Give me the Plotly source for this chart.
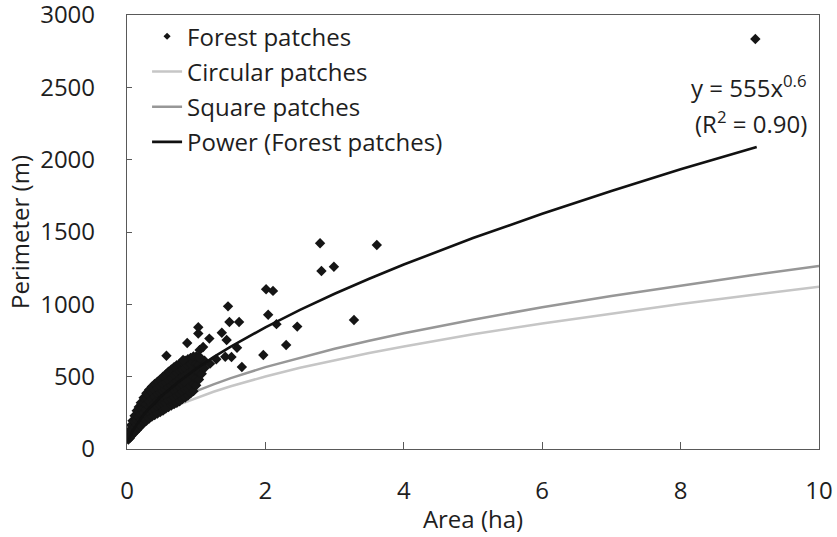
import plotly.graph_objects as go

# ---- Forest patches (area ha, perimeter m) ----
forest_area = [
    0.02, 0.02, 0.02,
    0.04, 0.04, 0.04,
    0.06, 0.06, 0.06, 0.06,
    0.08, 0.08, 0.08, 0.08,
    0.11, 0.11, 0.11, 0.11,
    0.14, 0.14, 0.14, 0.14, 0.14,
    0.17, 0.17, 0.17, 0.17, 0.17,
    0.20, 0.20, 0.20, 0.20, 0.20,
    0.24, 0.24, 0.24, 0.24, 0.24, 0.24,
    0.28, 0.28, 0.28, 0.28, 0.28, 0.28,
    0.32, 0.32, 0.32, 0.32, 0.32, 0.32,
    0.36, 0.36, 0.36, 0.36, 0.36, 0.36,
    0.40, 0.40, 0.40, 0.40, 0.40, 0.40,
    0.44, 0.44, 0.44, 0.44, 0.44, 0.44,
    0.48, 0.48, 0.48, 0.48, 0.48, 0.48,
    0.52, 0.52, 0.52, 0.52, 0.52, 0.52,
    0.56, 0.56, 0.56, 0.56, 0.56, 0.56,
    0.60, 0.60, 0.60, 0.60, 0.60, 0.60,
    0.64, 0.64, 0.64, 0.64, 0.64, 0.64,
    0.68, 0.68, 0.68, 0.68, 0.68, 0.68,
    0.72, 0.72, 0.72, 0.72, 0.72, 0.72,
    0.76, 0.76, 0.76, 0.76, 0.76, 0.76,
    0.80, 0.80, 0.80, 0.80, 0.80, 0.80,
    0.84, 0.84, 0.84, 0.84, 0.84, 0.84,
    0.88, 0.88, 0.88, 0.88, 0.88, 0.88,
    0.92, 0.92, 0.92, 0.92, 0.92, 0.92,
    0.96, 0.96, 0.96, 0.96, 0.96, 0.96,
    1.00, 1.00, 1.00, 1.00, 1.00,
    1.04, 1.04, 1.04, 1.04,
    1.08, 1.08, 1.08,
    1.12, 1.12,
    # scattered larger patches
    9.08, 2.79, 3.61, 2.81, 2.99, 2.01, 2.11, 1.46, 2.04, 1.48,
    1.62, 2.16, 2.46, 3.28, 1.03, 1.03, 0.87, 1.19, 1.37, 1.44,
    1.59, 2.30, 1.42, 1.51, 1.97, 1.66, 0.57, 0.81, 1.05, 1.10,
    1.05, 1.29, 1.20,
]
forest_perimeter = [
    65, 80, 100,
    75, 100, 125,
    90, 115, 140, 165,
    100, 130, 160, 195,
    115, 150, 190, 230,
    130, 165, 200, 235, 265,
    145, 180, 220, 255, 290,
    160, 200, 240, 280, 320,
    180, 215, 250, 285, 320, 355,
    195, 235, 275, 310, 350, 385,
    210, 250, 290, 330, 370, 410,
    225, 265, 305, 345, 390, 430,
    235, 275, 320, 360, 405, 450,
    245, 290, 335, 380, 420, 465,
    255, 300, 345, 390, 435, 480,
    265, 310, 355, 400, 450, 500,
    280, 320, 365, 410, 460, 515,
    290, 335, 380, 425, 475, 535,
    300, 345, 395, 440, 490, 550,
    310, 355, 405, 455, 510, 565,
    320, 370, 420, 470, 525, 580,
    330, 380, 430, 485, 540, 590,
    345, 395, 445, 500, 550, 600,
    355, 410, 460, 510, 560, 610,
    370, 420, 470, 520, 575, 620,
    385, 435, 485, 535, 585, 630,
    400, 450, 500, 550, 600, 640,
    440, 490, 540, 590, 640,
    480, 530, 580, 640,
    520, 570, 620,
    560, 610,
    2834, 1422, 1410, 1230, 1260, 1104, 1093, 986, 928, 878,
    878, 863, 846, 892, 842, 798, 733, 763, 804, 753,
    700, 719, 638, 636, 650, 567, 645, 615, 684, 705,
    627, 620, 590,
]

# ---- Reference shapes and power fit ----
curve_area = [0.02, 0.05, 0.1, 0.15, 0.2, 0.3, 0.4, 0.5, 0.75, 1, 1.25, 1.5,
              2, 2.5, 3, 3.5, 4, 5, 6, 7, 8, 9, 10]
circular_perimeter = [50, 79, 112, 137, 159, 194, 224, 251, 307, 354, 396, 434,
                      501, 561, 614, 663, 709, 793, 868, 938, 1003, 1063, 1121]
square_perimeter = [57, 89, 126, 155, 179, 219, 253, 283, 346, 400, 447, 490,
                    566, 632, 693, 748, 800, 894, 980, 1058, 1131, 1200, 1265]
power_area = [0.02, 0.05, 0.1, 0.15, 0.2, 0.3, 0.4, 0.5, 0.75, 1, 1.25, 1.5,
              2, 2.5, 3, 3.5, 4, 5, 6, 7, 8, 9, 9.1]
power_perimeter = [53, 92, 139, 178, 211, 270, 320, 366, 467, 555, 635, 708,
                   841, 962, 1073, 1177, 1275, 1458, 1626, 1784, 1933, 2074, 2088]

x_ticks = [0, 2, 4, 6, 8, 10]
y_ticks = [0, 500, 1000, 1500, 2000, 2500, 3000]

FONT = "Open Sans"
TXT = "#1e1e1e"
AX = "#595959"
C_CIRC = "#c6c6c6"
C_SQ = "#979797"
C_POW = "#111111"

fig = go.Figure()

fig.add_trace(go.Scatter(x=curve_area, y=circular_perimeter, mode="lines",
                         line=dict(color=C_CIRC, width=2.5), name="Circular patches",
                         legendrank=2, legendgroup="b"))
fig.add_trace(go.Scatter(x=curve_area, y=square_perimeter, mode="lines",
                         line=dict(color=C_SQ, width=2.5), name="Square patches",
                         legendrank=3, legendgroup="c"))
fig.add_trace(go.Scatter(x=forest_area, y=forest_perimeter, mode="markers",
                         marker=dict(symbol="diamond", size=8, color="#151515"),
                         name="Forest patches", showlegend=False))
fig.add_trace(go.Scatter(x=[None], y=[None], mode="markers",
                         marker=dict(symbol="diamond", size=5.5, color="#151515"),
                         name="Forest patches", legendrank=1, legendgroup="a"))
fig.add_trace(go.Scatter(x=power_area, y=power_perimeter, mode="lines",
                         line=dict(color=C_POW, width=2.6), name="Power (Forest patches)",
                         legendrank=4, legendgroup="d"))

fig.add_annotation(x=9.85, y=2505, xref="x", yref="y", xanchor="right", yanchor="middle",
                   text="y = 555x<sup>0.6</sup>", showarrow=False,
                   font=dict(family=FONT, size=24, color=TXT))
fig.add_annotation(x=9.85, y=2260, xref="x", yref="y", xanchor="right", yanchor="middle",
                   text="(R<sup>2</sup> = 0.90)", showarrow=False,
                   font=dict(family=FONT, size=24, color=TXT))

fig.update_layout(
    width=837, height=537,
    margin=dict(l=127, r=18, t=15, b=88),
    paper_bgcolor="white", plot_bgcolor="white",
    font=dict(family=FONT, size=24, color=TXT),
    legend=dict(x=0.029, y=1.002, xanchor="left", yanchor="top",
                bgcolor="rgba(0,0,0,0)", tracegroupgap=1,
                font=dict(family=FONT, size=24, color=TXT)),
    xaxis=dict(range=[0, 10], tickvals=x_ticks, ticks="inside", ticklen=7,
               tickcolor=AX, tickwidth=1.3, showline=True, mirror=True,
               linecolor=AX, linewidth=1.3, showgrid=False, zeroline=False,
               ticklabelstandoff=20, ticklabeloverflow="allow", automargin=False,
               tickfont=dict(family=FONT, size=24, color=TXT),
               title=dict(text="Area (ha)", standoff=6,
                          font=dict(family=FONT, size=24, color=TXT))),
    yaxis=dict(range=[0, 3000], tickvals=y_ticks, ticks="inside", ticklen=5,
               tickcolor=AX, tickwidth=1.3, showline=True, mirror=True,
               linecolor=AX, linewidth=1.3, showgrid=False, zeroline=False,
               ticklabelstandoff=26, ticklabeloverflow="allow", automargin=False,
               tickfont=dict(family=FONT, size=24, color=TXT),
               title=dict(text="Perimeter (m)", standoff=3,
                          font=dict(family=FONT, size=24, color=TXT))),
)

fig.write_html("out.html")
